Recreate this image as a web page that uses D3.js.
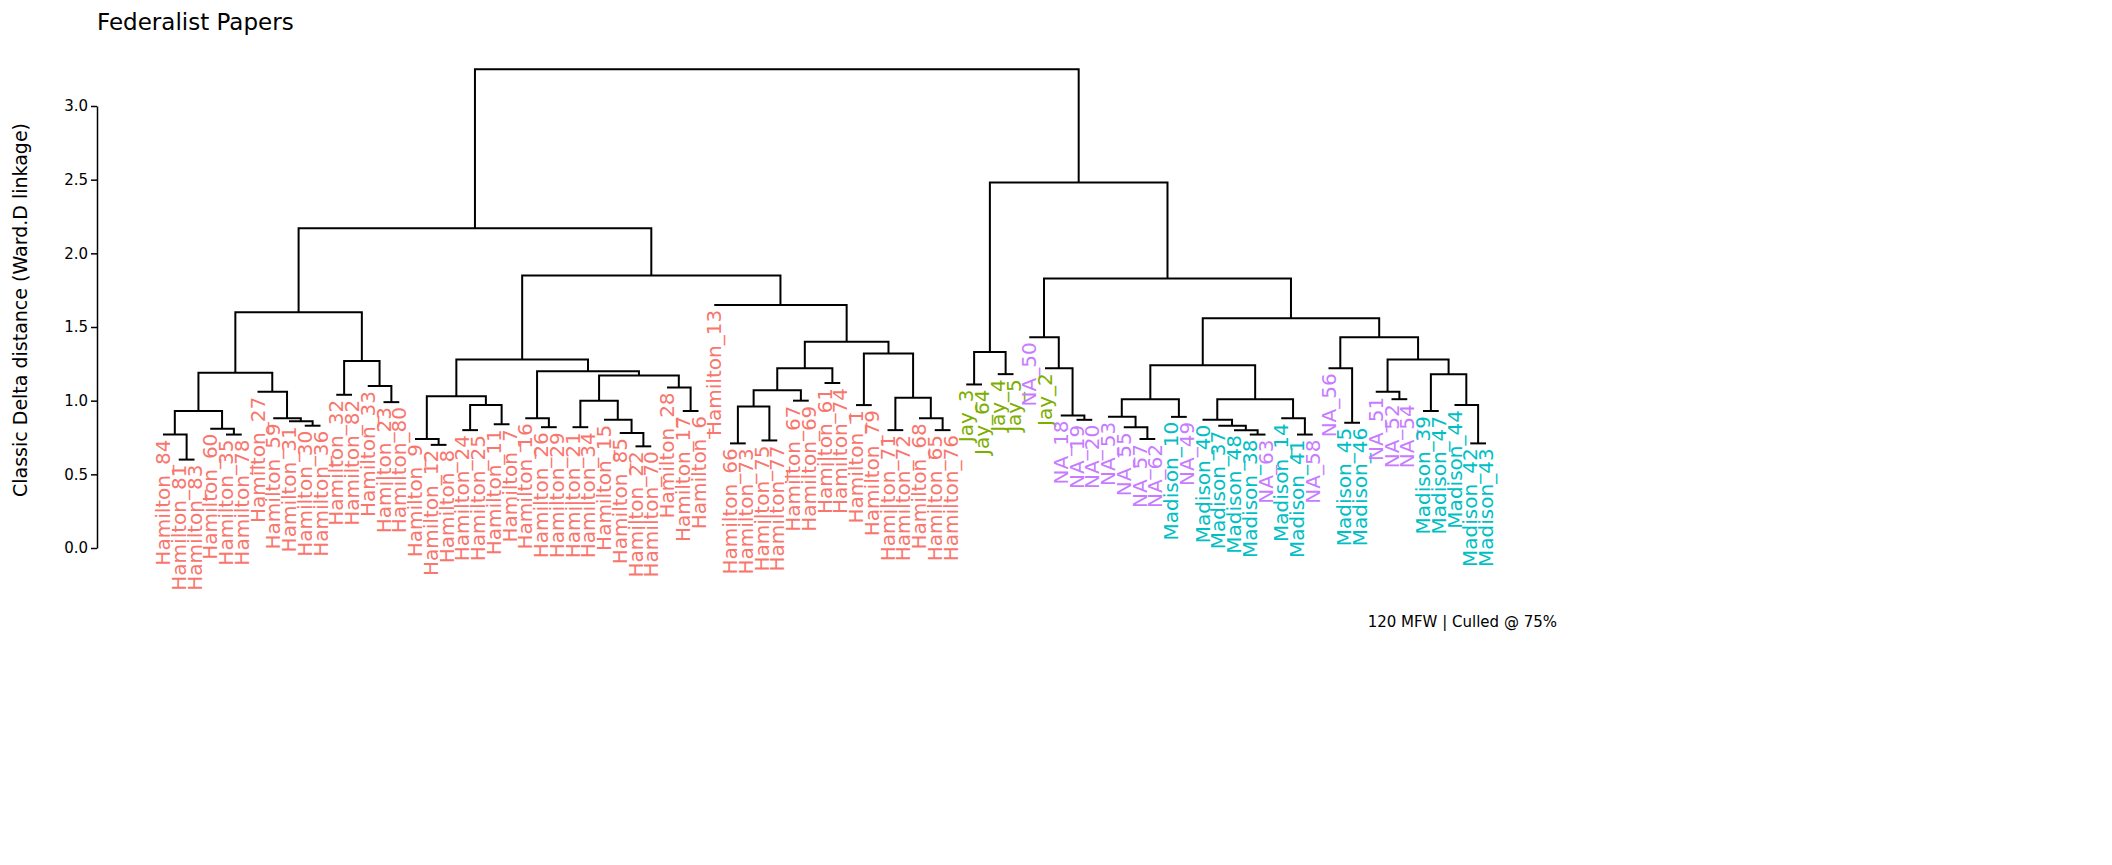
<!DOCTYPE html>
<html><head><meta charset="utf-8">
<script src="https://cdn.jsdelivr.net/npm/d3@7"></script>
<style>body{margin:0;background:#fff}text{font-family:"DejaVu Sans",sans-serif}</style>
</head><body><svg id="c" width="2112" height="865"></svg>
<script>
// Tree: [height, left, right]; leaves are label strings (order left to right)
const tree = [3.25,
  [2.17,
    [1.60,
      [1.19,
        [0.93, [0.77, "Hamilton_84", [0.60, "Hamilton_81", "Hamilton_83"]],
               [0.81, "Hamilton_60", [0.77, "Hamilton_35", "Hamilton_78"]]],
        [1.06, "Hamilton_27", [0.88, "Hamilton_59", [0.86, "Hamilton_31", [0.83, "Hamilton_30", "Hamilton_36"]]]]],
      [1.27, [1.04, "Hamilton_32", "Hamilton_82"], [1.10, "Hamilton_33", [0.99, "Hamilton_23", "Hamilton_80"]]]],
    [1.85,
      [1.28,
        [1.03, [0.74, "Hamilton_9", [0.70, "Hamilton_12", "Hamilton_8"]],
               [0.97, [0.80, "Hamilton_24", "Hamilton_25"], [0.84, "Hamilton_11", "Hamilton_7"]]],
        [1.20, [0.88, "Hamilton_16", [0.82, "Hamilton_26", "Hamilton_29"]],
               [1.17, [1.00, [0.82, "Hamilton_21", "Hamilton_34"], [0.87, "Hamilton_15", [0.78, "Hamilton_85", [0.69, "Hamilton_22", "Hamilton_70"]]]],
                      [1.09, "Hamilton_28", [0.93, "Hamilton_17", "Hamilton_6"]]]]],
      [1.65, "Hamilton_13",
        [1.40,
          [1.22, [1.07, [0.96, [0.71, "Hamilton_66", "Hamilton_73"], [0.73, "Hamilton_75", "Hamilton_77"]], [1.00, "Hamilton_67", "Hamilton_69"]],
                 [1.12, "Hamilton_61", "Hamilton_74"]],
          [1.32, [0.97, "Hamilton_1", "Hamilton_79"],
                 [1.02, [0.80, "Hamilton_71", "Hamilton_72"], [0.88, "Hamilton_68", [0.80, "Hamilton_65", "Hamilton_76"]]]]]]]],
  [2.48,
    [1.33, [1.11, "Jay_3", "Jay_64"], [1.18, "Jay_4", "Jay_5"]],
    [1.83,
      [1.43, "NA_50", [1.22, "Jay_2", [0.90, "NA_18", [0.87, "NA_19", "NA_20"]]]],
      [1.56,
        [1.24,
          [1.01, [0.89, "NA_53", [0.82, "NA_55", [0.74, "NA_57", "NA_62"]]], [0.89, "Madison_10", "NA_49"]],
          [1.01, [0.87, "Madison_40", [0.83, "Madison_37", [0.80, "Madison_48", [0.77, "Madison_38", "NA_63"]]]],
                 [0.88, "Madison_14", [0.77, "Madison_41", "NA_58"]]]],
        [1.43,
          [1.22, "NA_56", [0.85, "Madison_45", "Madison_46"]],
          [1.28, [1.06, "NA_51", [1.01, "NA_52", "NA_54"]],
                 [1.18, [0.93, "Madison_39", "Madison_47"], [0.97, "Madison_44", [0.71, "Madison_42", "Madison_43"]]]]]]]]];
const groups = ["Hamilton", "Jay", "Madison", "NA"];
const groupColors = ["#F8766D", "#7CAE00", "#00BFC4", "#C77CFF"];
const yTicks = [0, 0.5, 1.0, 1.5, 2.0, 2.5, 3.0];

const svg = d3.select("#c");
const root = d3.hierarchy(tree, d => Array.isArray(d) ? d.slice(1) : null);
const leaves = root.leaves().map(l => l.data);
const x = d3.scalePoint().domain(leaves).range([163, 1486]);
const y = d3.scaleLinear().domain([0, 3]).range([548, 106]);
const color = d3.scaleOrdinal().domain(groups).range(groupColors);

root.eachAfter(n => {
  if (n.children) { n.h = n.data[0]; n.px = (n.children[0].px + n.children[1].px) / 2; }
  else { n.px = x(n.data); }
});
root.each(n => { if (!n.children) n.h = n.parent.h; });

const g = svg.append("g").attr("stroke", "#000").attr("stroke-width", 2).attr("fill", "none");
root.descendants().filter(n => n.children).forEach(n => {
  const [a, b] = n.children;
  g.append("path").attr("d",
    `M${a.px},${y(a.h)}V${y(n.h)}H${b.px}V${y(b.h)}`);
});

svg.append("g").selectAll("text").data(root.leaves()).join("text")
  .attr("transform", d => `translate(${d.px},${y(d.h) + 5}) rotate(-90)`)
  .attr("text-anchor", "end").attr("dy", "0.35em")
  .attr("font-size", 20)
  .attr("fill", d => color(d.data.split("_")[0]))
  .text(d => d.data);

const ax = svg.append("g").attr("transform", "translate(97,0)")
  .call(d3.axisLeft(y).tickValues(yTicks).tickFormat(d3.format(".1f")).tickSize(6).tickSizeOuter(0));
ax.select(".domain").attr("stroke-width", 1.5);
ax.selectAll(".tick line").attr("stroke-width", 1.5);
ax.selectAll("text").attr("font-size", 15).attr("fill", "#000").attr("font-family", "DejaVu Sans");

svg.append("text").attr("x", 97).attr("y", 30).attr("font-size", 23).text("Federalist Papers");
svg.append("text").attr("transform", "translate(27,310) rotate(-90)").attr("text-anchor", "middle")
  .attr("font-size", 19).text("Classic Delta distance (Ward.D linkage)");
svg.append("text").attr("x", 1557).attr("y", 627).attr("text-anchor", "end").attr("font-size", 15)
  .text("120 MFW | Culled @ 75%");
</script></body></html>
